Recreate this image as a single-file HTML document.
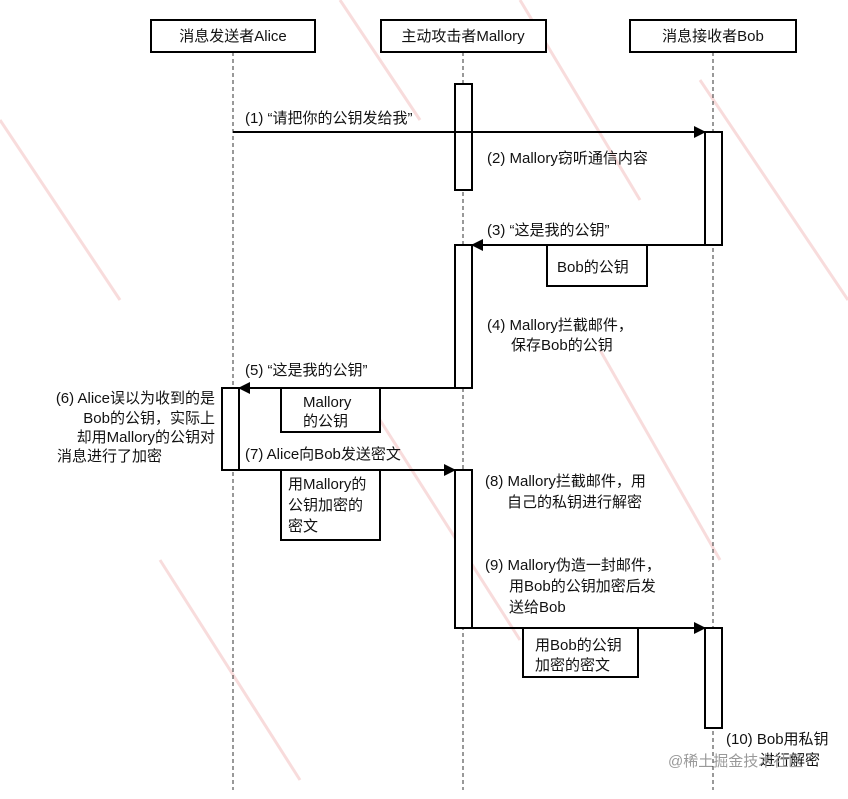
<!DOCTYPE html>
<html><head><meta charset="utf-8"><style>
body{margin:0;background:#fff;}
svg text{font-family:"Liberation Sans","Noto Sans CJK SC",sans-serif;font-size:15px;fill:#111;}
</style></head><body>
<svg width="848" height="794" viewBox="0 0 848 794" xmlns="http://www.w3.org/2000/svg">
<defs><marker id="a" markerWidth="12" markerHeight="12" refX="11" refY="6" orient="auto" markerUnits="userSpaceOnUse"><path d="M0,0 L12,6 L0,12 z" fill="#000"/></marker></defs>
<g stroke="#f4c4c4" stroke-width="3" fill="none" opacity="0.6">
<path d="M0,120 L120,300"/><path d="M340,0 L420,120"/><path d="M520,0 L640,200"/><path d="M700,80 L848,300"/><path d="M600,350 L720,560"/><path d="M160,560 L300,780"/><path d="M380,420 L520,640"/>
</g>
<g stroke="#333" stroke-width="1" stroke-dasharray="4,3">
<line x1="233" y1="52" x2="233" y2="790"/><line x1="463" y1="52" x2="463" y2="790"/><line x1="713" y1="52" x2="713" y2="790"/>
</g>
<g fill="#fff" stroke="#000" stroke-width="2">
<rect x="151" y="20" width="164" height="32"/><rect x="381" y="20" width="165" height="32"/><rect x="630" y="20" width="166" height="32"/>
<rect x="455" y="84" width="17" height="106"/><rect x="705" y="132" width="17" height="113"/>
<rect x="455" y="245" width="17" height="143"/><rect x="222" y="388" width="17" height="82"/>
<rect x="455" y="470" width="17" height="158"/><rect x="705" y="628" width="17" height="100"/>
<rect x="547" y="245" width="100" height="41"/><rect x="281" y="388" width="99" height="44"/>
<rect x="281" y="470" width="99" height="70"/><rect x="523" y="628" width="115" height="49"/>
</g>
<g stroke="#000" stroke-width="2">
<line x1="233" y1="132" x2="705" y2="132" marker-end="url(#a)"/>
<line x1="705" y1="245" x2="472" y2="245" marker-end="url(#a)"/>
<line x1="455" y1="388" x2="239" y2="388" marker-end="url(#a)"/>
<line x1="239" y1="470" x2="455" y2="470" marker-end="url(#a)"/>
<line x1="472" y1="628" x2="705" y2="628" marker-end="url(#a)"/>
</g>
<text x="233" y="41" text-anchor="middle">消息发送者Alice</text>
<text x="463" y="41" text-anchor="middle">主动攻击者Mallory</text>
<text x="713" y="41" text-anchor="middle">消息接收者Bob</text>
<text x="245" y="123">(1) “请把你的公钥发给我”</text>
<text x="487" y="163">(2) Mallory窃听通信内容</text>
<text x="487" y="235">(3) “这是我的公钥”</text>
<text x="557" y="272">Bob的公钥</text>
<text x="487" y="330">(4) Mallory拦截邮件，</text>
<text x="511" y="350">保存Bob的公钥</text>
<text x="245" y="375">(5) “这是我的公钥”</text>
<text x="303" y="407">Mallory</text><text x="303" y="426">的公钥</text>
<text x="215" y="403" text-anchor="end">(6) Alice误以为收到的是</text>
<text x="215" y="423" text-anchor="end">Bob的公钥，实际上</text>
<text x="215" y="442" text-anchor="end">却用Mallory的公钥对</text>
<text x="57" y="461">消息进行了加密</text>
<text x="245" y="459">(7) Alice向Bob发送密文</text>
<text x="288" y="489">用Mallory的</text><text x="288" y="510">公钥加密的</text><text x="288" y="531">密文</text>
<text x="485" y="486">(8) Mallory拦截邮件，用</text>
<text x="507" y="507">自己的私钥进行解密</text>
<text x="485" y="570">(9) Mallory伪造一封邮件，</text>
<text x="509" y="591">用Bob的公钥加密后发</text>
<text x="509" y="612">送给Bob</text>
<text x="535" y="650">用Bob的公钥</text><text x="535" y="670">加密的密文</text>
<text x="726" y="744">(10) Bob用私钥</text>
<text x="760" y="765">进行解密</text>
<text x="668" y="766" style="fill:#999">@稀土掘金技术社区</text>
</svg>
</body></html>
